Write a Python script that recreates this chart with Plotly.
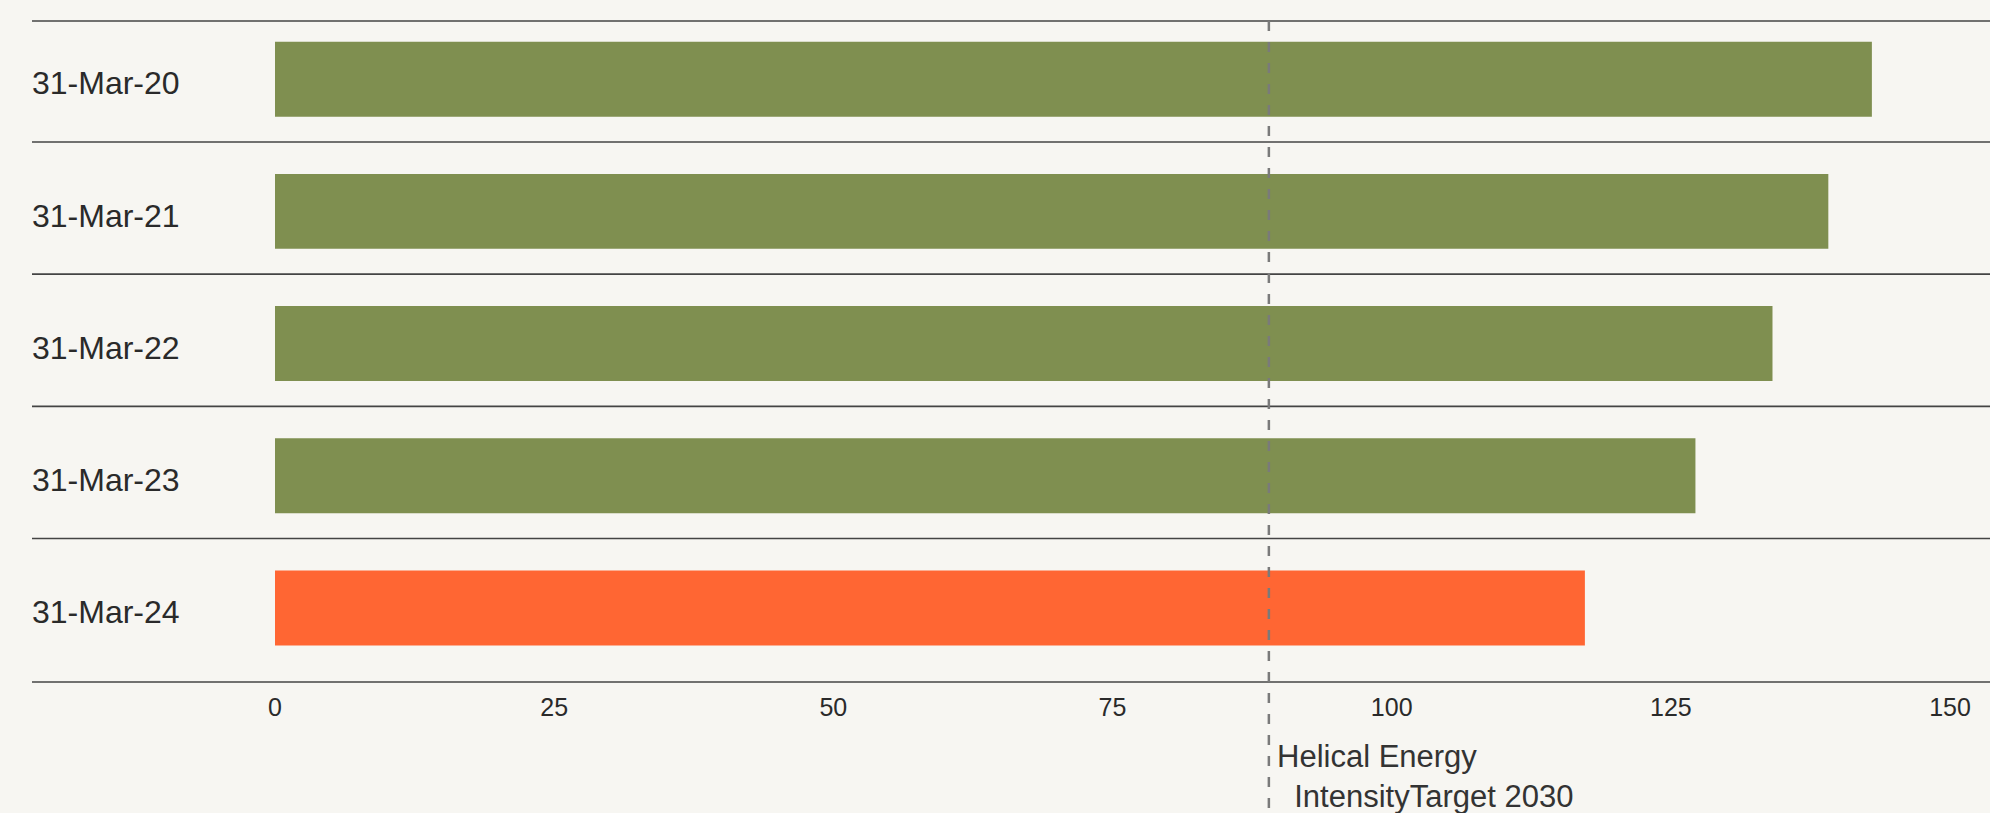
import plotly.graph_objects as go

categories = ["31-Mar-20", "31-Mar-21", "31-Mar-22", "31-Mar-23", "31-Mar-24"]
values = [143.0, 139.1, 134.1, 127.2, 117.3]
bar_colors = ["#7F8F50", "#7F8F50", "#7F8F50", "#7F8F50", "#FF6633"]
x_ticks = [0, 25, 50, 75, 100, 125, 150]
target_value = 89.0
target_label = "Helical Energy<br>\u00a0\u00a0IntensityTarget 2030"

BG = "#F7F6F2"
W, H = 1990, 813
ML, MR, MT, MB = 32, 0, 21, 131

fig = go.Figure()
fig.add_trace(go.Bar(
    y=categories, x=values, orientation="h",
    marker=dict(color=bar_colors, line=dict(width=0)),
    hoverinfo="x+y",
))

# category separators
seps = [i + 0.475 for i in range(len(categories) - 1)]
for s in seps:
    fig.add_shape(type="line", xref="paper", yref="y", x0=0, x1=1, y0=s, y1=s,
                  line=dict(color="#444444", width=1.6), layer="below")
# top & bottom lines
for yy in (0, 1):
    fig.add_shape(type="line", xref="paper", yref="paper", x0=0, x1=1, y0=yy, y1=yy,
                  line=dict(color="#444444", width=1.6), layer="below")

# target line
fig.add_shape(type="line", xref="x", yref="paper", x0=target_value, x1=target_value,
              y0=1, y1=-MB / (H - MT - MB),
              line=dict(color="#7A7A7A", width=2.5, dash="10px,11px"), layer="above")
fig.add_annotation(x=target_value, xref="x", y=-(737 - 682.3) / (H - MT - MB),
                   yref="paper", text=target_label, showarrow=False,
                   xanchor="left", yanchor="top", align="left", xshift=6,
                   font=dict(family="Liberation Sans, Arial, sans-serif", size=31, color="#333333"))

px_per_unit = 11.167
x0 = -(275 - ML) / px_per_unit
x1 = (W - 275) / px_per_unit

fig.update_layout(
    width=W, height=H,
    margin=dict(l=ML, r=MR, t=MT, b=MB, pad=0),
    paper_bgcolor=BG, plot_bgcolor=BG,
    bargap=0.433,
    showlegend=False,
    font=dict(family="Liberation Sans, Arial, sans-serif", color="#2a2a2a"),
    xaxis=dict(range=[x0, x1], tickvals=x_ticks, ticktext=[str(v) for v in x_ticks],
               showgrid=False, zeroline=False, showline=False, ticks="",
               tickfont=dict(size=25, color="#2a2a2a"), ticklabelstandoff=8),
    yaxis=dict(type="category", categoryorder="array", categoryarray=categories,
               range=[4.560, -0.440], showgrid=False, zeroline=False, showline=False,
               ticks="", ticklabelposition="inside", ticklabelstandoff=-3,
               ticklabelshift=-4,
               tickfont=dict(size=32, color="#2a2a2a")),
)

fig.write_html("out.html")
